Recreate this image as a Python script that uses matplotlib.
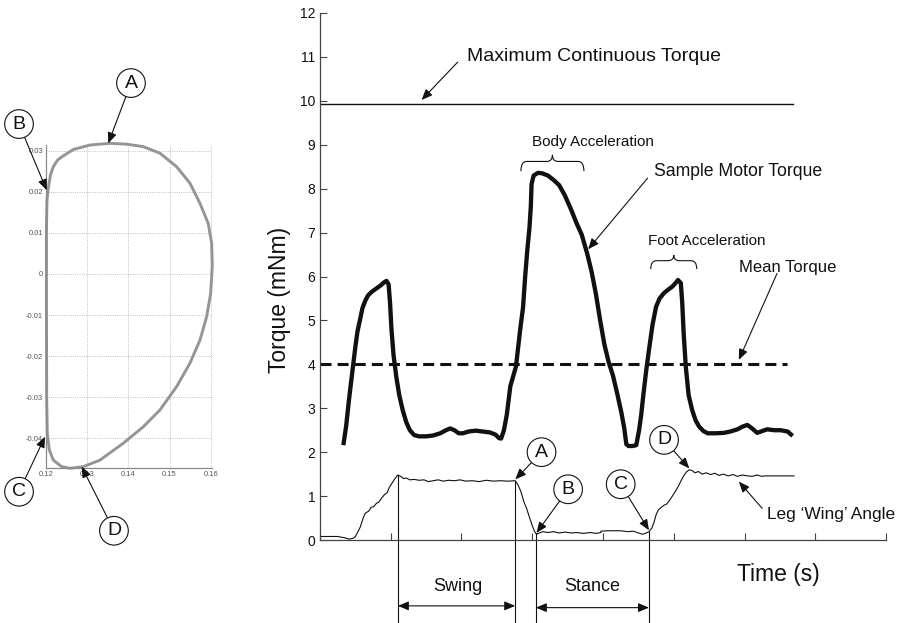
import numpy as np
import matplotlib
matplotlib.use("Agg")
import matplotlib.pyplot as plt
from matplotlib.path import Path
from matplotlib.patches import PathPatch

plt.rcParams["font.family"] = ["Liberation Sans", "DejaVu Sans"]

# ---------------- data ----------------
# Sample motor torque over one stride (time in tick units, torque in mNm)
torque_t = [0.33, 0.37, 0.41, 0.46, 0.50, 0.53, 0.57, 0.60, 0.64, 0.68, 0.73, 0.79,
            0.86, 0.90, 0.94, 0.97, 0.99, 1.01, 1.04, 1.08, 1.12, 1.17, 1.22, 1.27,
            1.33, 1.40, 1.50, 1.60, 1.70, 1.78, 1.84, 1.90, 1.96, 2.02, 2.10, 2.20,
            2.30, 2.40, 2.48, 2.53, 2.56, 2.60, 2.64, 2.69, 2.77, 2.83, 2.87, 2.90,
            2.93, 2.96, 2.98, 2.99, 3.02, 3.08, 3.14, 3.22, 3.30, 3.38, 3.46, 3.55,
            3.63, 3.70, 3.78, 3.84, 3.90, 3.96, 4.02, 4.08, 4.14, 4.20, 4.26, 4.30,
            4.33, 4.36, 4.42, 4.47, 4.51, 4.54, 4.57, 4.61, 4.65, 4.70, 4.75, 4.80,
            4.86, 4.92, 4.98, 5.03, 5.06, 5.10, 5.12, 5.14, 5.17, 5.21, 5.26, 5.31,
            5.36, 5.42, 5.48, 5.60, 5.71, 5.80, 5.90, 5.97, 6.04, 6.10, 6.18, 6.25,
            6.32, 6.42, 6.51, 6.61, 6.68]
torque_v = [2.16, 2.60, 3.20, 3.87, 4.40, 4.75, 5.05, 5.28, 5.45, 5.57, 5.65, 5.72,
            5.80, 5.86, 5.90, 5.82, 5.40, 4.80, 4.20, 3.70, 3.30, 2.95, 2.68, 2.50,
            2.39, 2.36, 2.36, 2.38, 2.43, 2.50, 2.54, 2.50, 2.43, 2.43, 2.47, 2.49,
            2.47, 2.45, 2.40, 2.32, 2.31, 2.50, 2.85, 3.50, 3.95, 4.80, 5.30, 6.00,
            6.60, 7.10, 7.60, 8.10, 8.30, 8.36, 8.35, 8.30, 8.20, 8.08, 7.85, 7.52,
            7.20, 6.95, 6.50, 6.10, 5.60, 5.00, 4.45, 4.05, 3.75, 3.34, 2.90, 2.55,
            2.18, 2.14, 2.14, 2.16, 2.50, 2.85, 3.30, 3.85, 4.33, 4.90, 5.31, 5.50,
            5.62, 5.70, 5.77, 5.86, 5.92, 5.85, 5.40, 4.71, 3.95, 3.30, 2.96, 2.72,
            2.58, 2.48, 2.43, 2.43, 2.44, 2.47, 2.52, 2.58, 2.62, 2.55, 2.44, 2.48,
            2.52, 2.50, 2.50, 2.47, 2.37]

# Leg 'wing' angle trace (same time base, plotted on the torque scale)
leg_t = [0.00, 0.25, 0.35, 0.41, 0.47, 0.50, 0.54, 0.57, 0.61, 0.64, 0.69, 0.72,
         0.76, 0.80, 0.83, 0.87, 0.91, 0.95, 0.98, 1.02, 1.06, 1.10, 1.14, 1.18,
         1.22, 1.27, 1.33, 1.40, 1.47, 1.53, 1.60, 1.67, 1.74, 1.82, 1.90, 1.98,
         2.06, 2.15, 2.25, 2.35, 2.45, 2.55, 2.65, 2.76, 2.80, 2.84, 2.88, 2.92,
         2.96, 3.00, 3.03, 3.06, 3.10, 3.15, 3.22, 3.30, 3.38, 3.46, 3.55, 3.63,
         3.72, 3.82, 3.90, 3.97, 3.97, 4.05, 4.15, 4.25, 4.35, 4.43, 4.50, 4.56,
         4.61, 4.65, 4.69, 4.72, 4.75, 4.78, 4.82, 4.86, 4.90, 4.94, 4.98, 5.02,
         5.06, 5.10, 5.14, 5.18, 5.22, 5.26, 5.30, 5.35, 5.40, 5.46, 5.52, 5.58,
         5.64, 5.70, 5.77, 5.84, 5.90, 5.97, 6.04, 6.11, 6.18, 6.24, 6.30, 6.70]
leg_v = [0.08, 0.08, 0.05, 0.02, 0.04, 0.08, 0.20, 0.30, 0.50, 0.61, 0.66, 0.74,
         0.76, 0.84, 0.86, 0.95, 1.03, 1.08, 1.20, 1.30, 1.40, 1.48, 1.45, 1.40,
         1.41, 1.37, 1.38, 1.36, 1.37, 1.33, 1.35, 1.37, 1.34, 1.36, 1.35, 1.37,
         1.34, 1.35, 1.33, 1.36, 1.34, 1.35, 1.34, 1.35, 1.25, 1.10, 0.88, 0.72,
         0.52, 0.33, 0.20, 0.13, 0.16, 0.19, 0.17, 0.19, 0.16, 0.18, 0.16, 0.17,
         0.15, 0.17, 0.15, 0.17, 0.20, 0.21, 0.21, 0.21, 0.19, 0.20, 0.16, 0.13,
         0.16, 0.19, 0.27, 0.40, 0.57, 0.68, 0.74, 0.79, 0.82, 0.90, 1.00, 1.10,
         1.21, 1.34, 1.46, 1.55, 1.60, 1.58, 1.53, 1.56, 1.50, 1.53, 1.49, 1.52,
         1.47, 1.50, 1.46, 1.49, 1.45, 1.48, 1.46, 1.45, 1.48, 1.45, 1.46, 1.46]

mean_torque = 4.0
max_cont_torque = 9.93
trace_end = 6.68
mean_end = 6.60

torque_ticks = list(range(0, 13))
time_ticks = list(range(0, 9))

# Gait phases (start, end) on the time base
swing = (1.10, 2.76)
stance = (3.05, 4.65)
# Leg positions marked A-D on the angle trace
marker_times = {"A": 2.76, "B": 3.06, "C": 4.65, "D": 5.22}

# Foot trajectory loop (x position vs. y position)
loop_x = [0.1201, 0.12024, 0.12056, 0.12109, 0.12177, 0.12279, 0.12381, 0.12663,
          0.13068, 0.13553, 0.13959, 0.14362, 0.14767, 0.15172, 0.15495, 0.15738,
          0.15939, 0.16022, 0.16036, 0.15998, 0.15900, 0.15738, 0.15495, 0.15172,
          0.14767, 0.14362, 0.13876, 0.13311, 0.12905, 0.12583, 0.12381, 0.12177,
          0.12080, 0.12032, 0.12017, 0.1201, 0.1201]
loop_y = [0.0107, 0.0180, 0.0209, 0.0241, 0.0261, 0.0277, 0.0285, 0.0303,
          0.0314, 0.0318, 0.0316, 0.0310, 0.0294, 0.0261, 0.0221, 0.0172,
          0.0123, 0.0075, 0.0018, -0.0047, -0.0104, -0.0161, -0.0217, -0.0274,
          -0.0331, -0.0372, -0.0412, -0.0453, -0.0469, -0.0473, -0.0469, -0.0453,
          -0.0428, -0.0388, -0.0307, -0.0063, 0.0107]
loop_xticks = [0.12, 0.13, 0.14, 0.15, 0.16]
loop_xticklabels = ["0.12", "0.13", "0.14", "0.15", "0.16"]
loop_yticks = [0.03, 0.02, 0.01, 0.0, -0.01, -0.02, -0.03, -0.04]
loop_yticklabels = ["0.03", "0.02", "0.01", "0", "-0.01", "-0.02", "-0.03", "-0.04"]
# Loop points labelled A-D
loop_marks = {"A": (0.13512, 0.0318), "B": (0.12017, 0.0204),
              "C": (0.11976, -0.0396), "D": (0.12867, -0.0469)}

# ---------------- figure ----------------
W, H = 904, 623
fig = plt.figure(figsize=(W / 100, H / 100), dpi=100)

INK = "#111111"
arrow_kw = dict(arrowstyle="-|>,head_length=0.65,head_width=0.27", color=INK,
                lw=0.8, shrinkA=0, shrinkB=0, mutation_scale=10)
circle_box = dict(boxstyle="circle,pad=0.3", fc="white", ec=INK, lw=0.8)
LETTER_SIZE = 14


def brace(ax, x0, x1, y_end, y_mid, y_tip, r):
    xc = 0.5 * (x0 + x1)
    verts = [(x0, y_end), (x0, y_mid), (x0 + r, y_mid),
             (xc - r, y_mid),
             (xc, y_mid), (xc, y_tip),
             (xc, y_mid), (xc + r, y_mid),
             (x1 - r, y_mid),
             (x1, y_mid), (x1, y_end)]
    codes = [Path.MOVETO, Path.CURVE3, Path.CURVE3,
             Path.LINETO,
             Path.CURVE3, Path.CURVE3,
             Path.CURVE3, Path.CURVE3,
             Path.LINETO,
             Path.CURVE3, Path.CURVE3]
    ax.add_patch(PathPatch(Path(verts, codes), fc="none", ec=INK, lw=0.8,
                           clip_on=False))


# ---- main torque axes ----
ax = fig.add_axes([320 / W, 83 / H, 566 / W, 527 / H])
ax.set_xlim(0, 8)
ax.set_ylim(0, 12)
for s in ("top", "right"):
    ax.spines[s].set_visible(False)
for s in ("left", "bottom"):
    ax.spines[s].set_color("#444444")
    ax.spines[s].set_linewidth(0.9)
ax.set_yticks(torque_ticks)
ax.set_xticks(time_ticks)
ax.set_xticklabels([])
ax.tick_params(direction="in", length=5, width=0.8, colors="#444444",
               labelsize=10, labelcolor=INK)

ax.plot([0, trace_end], [max_cont_torque] * 2, color=INK, lw=1.0)
ax.plot([0, mean_end], [mean_torque] * 2, color=INK, lw=2.2,
        linestyle=(0, (3.6, 2.0)))
ax.plot(torque_t, torque_v, color=INK, lw=3.1, solid_joinstyle="round",
        solid_capstyle="butt")
ax.plot(leg_t, leg_v, color=INK, lw=0.8)

# phase boundary lines dropping below the axis
bounds = [swing[0], swing[1], stance[0], stance[1]]
tops = np.interp(bounds, leg_t, leg_v)
for b, tp in zip(bounds, tops):
    ax.plot([b, b], [tp, -1.95], color=INK, lw=0.8, clip_on=False)

# swing / stance spans
span_kw = dict(arrowstyle="<|-|>,head_length=0.65,head_width=0.27",
               color=INK, lw=0.8, shrinkA=0, shrinkB=0, mutation_scale=10)
ax.annotate("", xy=(swing[1], -1.50), xytext=(swing[0], -1.50),
            annotation_clip=False, arrowprops=span_kw)
ax.annotate("", xy=(stance[1], -1.54), xytext=(stance[0], -1.54),
            annotation_clip=False, arrowprops=span_kw)
ax.text(1.945, -1.07, "Swing", ha="center", va="center", fontsize=13,
        color=INK, clip_on=False)
ax.text(3.85, -1.07, "Stance", ha="center", va="center", fontsize=13,
        color=INK, clip_on=False)

# labels with pointers
ax.text(2.08, 11.01, "Maximum Continuous Torque", ha="left", va="center",
        fontsize=14, color=INK)
ax.annotate("", xy=(1.436, 10.02), xytext=(1.945, 10.88), arrowprops=arrow_kw)

ax.text(4.72, 8.38, "Sample Motor Torque", ha="left", va="center",
        fontsize=12.7, color=INK)
ax.annotate("", xy=(3.79, 6.62), xytext=(4.63, 8.24), arrowprops=arrow_kw)

ax.text(5.92, 6.20, "Mean Torque", ha="left", va="center",
        fontsize=12, color=INK)
ax.annotate("", xy=(5.92, 4.10), xytext=(6.46, 6.07), arrowprops=arrow_kw)

ax.text(6.32, 0.57, "Leg \u2018Wing\u2019 Angle", ha="left", va="center",
        fontsize=12.4, color=INK, clip_on=False)
ax.annotate("", xy=(5.92, 1.33), xytext=(6.25, 0.72), arrowprops=arrow_kw)

ax.text(3.86, 9.07, "Body Acceleration", ha="center", va="center",
        fontsize=11, color=INK)
brace(ax, 2.84, 3.73, 8.40, 8.62, 8.77, 0.08)
ax.text(5.46, 6.80, "Foot Acceleration", ha="center", va="center",
        fontsize=11, color=INK)
brace(ax, 4.675, 5.325, 6.17, 6.36, 6.49, 0.08)

ax.text(-0.072, 0.455, "Torque (mNm)", transform=ax.transAxes, rotation=90,
        ha="center", va="center", fontsize=16.5, color=INK)
ax.text(0.81, -0.066, "Time (s)", transform=ax.transAxes, ha="center",
        va="center", fontsize=16.5, color=INK, clip_on=False)

# circled markers on the angle trace
letter_pos = {"A": (3.131, 2.00), "B": (3.507, 1.155),
              "C": (4.25, 1.27), "D": (4.863, 2.28)}
for key, (lx, ly) in letter_pos.items():
    t0 = marker_times[key]
    v0 = float(np.interp(t0, leg_t, leg_v)) + 0.03
    ax.annotate(key, xy=(t0, v0), xytext=(lx, ly), ha="center", va="center",
                fontsize=LETTER_SIZE, color=INK, bbox=circle_box,
                arrowprops=arrow_kw, annotation_clip=False)

# ---- foot trajectory loop ----
ax2 = fig.add_axes([46 / W, (H - 468.3) / H, 166.4 / W, 323.3 / H])
ax2.set_xlim(0.12, 0.1604)
ax2.set_ylim(-0.0473, 0.0314)
for s in ("top", "right"):
    ax2.spines[s].set_visible(False)
for s in ("left", "bottom"):
    ax2.spines[s].set_color("#8a8a8a")
    ax2.spines[s].set_linewidth(0.9)
ax2.set_xticks(loop_xticks)
ax2.set_xticklabels(loop_xticklabels)
ax2.set_yticks(loop_yticks)
ax2.set_yticklabels(loop_yticklabels)
ax2.tick_params(direction="in", length=0, labelsize=5.5, colors="#555555", pad=2)
ax2.grid(True, linestyle=":", color="#aaaaaa", lw=0.6)
ax2.set_axisbelow(True)
ax2.plot(loop_x, loop_y, color="#959595", lw=2.1, solid_joinstyle="round",
         clip_on=False)

loop_letter_pos = {"A": (0.14063, 0.04647), "B": (0.11345, 0.0365),
                   "C": (0.11345, -0.0530), "D": (0.13650, -0.0625)}
for key, (lx, ly) in loop_letter_pos.items():
    ax2.annotate(key, xy=loop_marks[key], xytext=(lx, ly), ha="center",
                 va="center", fontsize=LETTER_SIZE, color=INK, bbox=circle_box,
                 arrowprops=arrow_kw, annotation_clip=False)

fig.savefig("out.png", dpi=100)
